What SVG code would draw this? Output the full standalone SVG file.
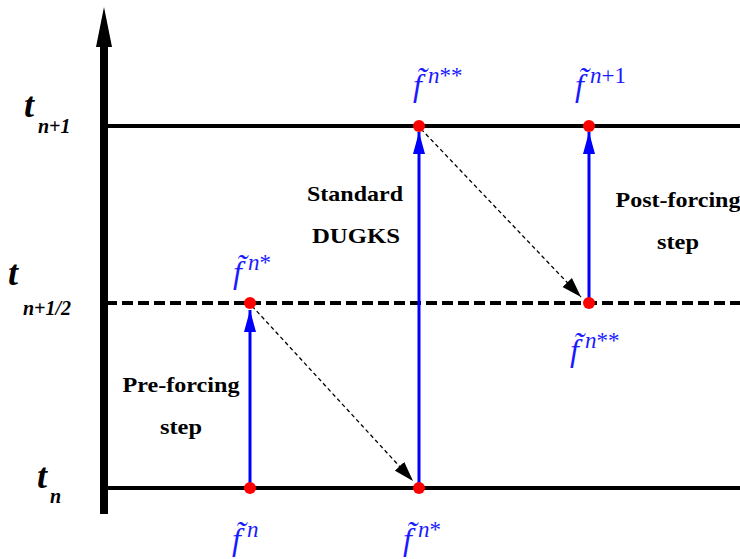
<svg xmlns="http://www.w3.org/2000/svg" width="740" height="559" viewBox="0 0 740 559">
<style>
.lvl{stroke:#000;stroke-width:4;fill:none}
.dash{stroke-dasharray:11 5}
.blue{stroke:#0000ff;stroke-width:3;fill:none}
.dar{stroke:#000;stroke-width:1.3;stroke-dasharray:4 3;fill:none}
.dot{fill:#ff0000}
.lab{font-family:"Liberation Serif",serif;font-weight:bold;font-size:22px;fill:#000;text-anchor:middle}
.tt{font-family:"Liberation Serif",serif;font-weight:bold;font-style:italic;fill:#000}
.ff{font-family:"Liberation Serif",serif;font-style:italic;fill:#1a1aff}
.sup{font-family:"Liberation Serif",serif;fill:#1a1aff}
</style>
<defs>
<marker id="ab" markerUnits="userSpaceOnUse" markerWidth="24" markerHeight="14" refX="22" refY="7" orient="auto"><path d="M0,1 L22,7 L0,13 Z" fill="#0000ff"/></marker>
<marker id="ak" markerUnits="userSpaceOnUse" markerWidth="22" markerHeight="14" refX="20" refY="7" orient="auto"><path d="M0,0.5 L20,7 L0,13.5 Z" fill="#000"/></marker>
</defs>
<g id="axis">
<rect x="100" y="45" width="8" height="469" fill="#000"/>
<polygon points="104,7 96,47 112,47" fill="#000"/>
</g>
<g id="levels">
<line class="lvl" x1="106" y1="126" x2="740" y2="126"/>
<line class="lvl dash" x1="106" y1="303" x2="740" y2="303"/>
<line class="lvl" x1="106" y1="488" x2="740" y2="488"/>
</g>
<g id="connectors">
<line class="blue" x1="250" y1="488" x2="250" y2="310" marker-end="url(#ab)"/>
<line class="blue" x1="419" y1="488" x2="419" y2="132" marker-end="url(#ab)"/>
<line class="blue" x1="589" y1="303" x2="589" y2="132" marker-end="url(#ab)"/>
<line class="dar" x1="252" y1="306" x2="413" y2="481" marker-end="url(#ak)"/>
<line class="dar" x1="421" y1="129" x2="581" y2="297" marker-end="url(#ak)"/>
</g>
<g id="dots">
<circle class="dot" cx="250" cy="303" r="6"/>
<circle class="dot" cx="250" cy="488" r="6"/>
<circle class="dot" cx="419" cy="126" r="6"/>
<circle class="dot" cx="419" cy="488" r="6"/>
<circle class="dot" cx="589" cy="126" r="6"/>
<circle class="dot" cx="589" cy="303" r="6"/>
</g>
<g id="tlabels">
<text class="tt" x="24" y="117" font-size="36">t</text>
<text class="tt" x="38" y="133" font-size="20">n+1</text>
<text class="tt" x="8" y="285" font-size="36">t</text>
<text class="tt" x="23" y="315" font-size="20">n+1/2</text>
<text class="tt" x="37" y="488" font-size="36">t</text>
<text class="tt" x="50" y="503" font-size="20">n</text>
</g>
<g id="steps">
<text class="lab" x="181" y="392" textLength="117" lengthAdjust="spacingAndGlyphs">Pre-forcing</text>
<text class="lab" x="181" y="434" textLength="42" lengthAdjust="spacingAndGlyphs">step</text>
<text class="lab" x="355" y="201" textLength="96" lengthAdjust="spacingAndGlyphs">Standard</text>
<text class="lab" x="356" y="243" textLength="88" lengthAdjust="spacingAndGlyphs">DUGKS</text>
<text class="lab" x="678" y="207" textLength="125" lengthAdjust="spacingAndGlyphs">Post-forcing</text>
<text class="lab" x="678" y="249" textLength="42" lengthAdjust="spacingAndGlyphs">step</text>
</g>
<g id="flabels">
<text class="ff" x="233" y="283" font-size="32">f̃</text><text class="sup" x="248" y="270" font-size="23" font-style="italic">n<tspan font-style="normal">*</tspan></text>
<text class="ff" x="413" y="96" font-size="32">f̃</text><text class="sup" x="428" y="83" font-size="23" font-style="italic">n<tspan font-style="normal">**</tspan></text>
<text class="ff" x="575" y="96" font-size="32">f̃</text><text class="sup" x="590" y="83" font-size="23" font-style="italic">n<tspan font-style="normal">+1</tspan></text>
<text class="ff" x="570" y="361" font-size="32">f̃</text><text class="sup" x="585" y="348" font-size="23" font-style="italic">n<tspan font-style="normal">**</tspan></text>
<text class="ff" x="232" y="550" font-size="32">f̃</text><text class="sup" x="247" y="537" font-size="23" font-style="italic">n</text>
<text class="ff" x="403" y="550" font-size="32">f̃</text><text class="sup" x="418" y="537" font-size="23" font-style="italic">n<tspan font-style="normal">*</tspan></text>
</g>
</svg>
